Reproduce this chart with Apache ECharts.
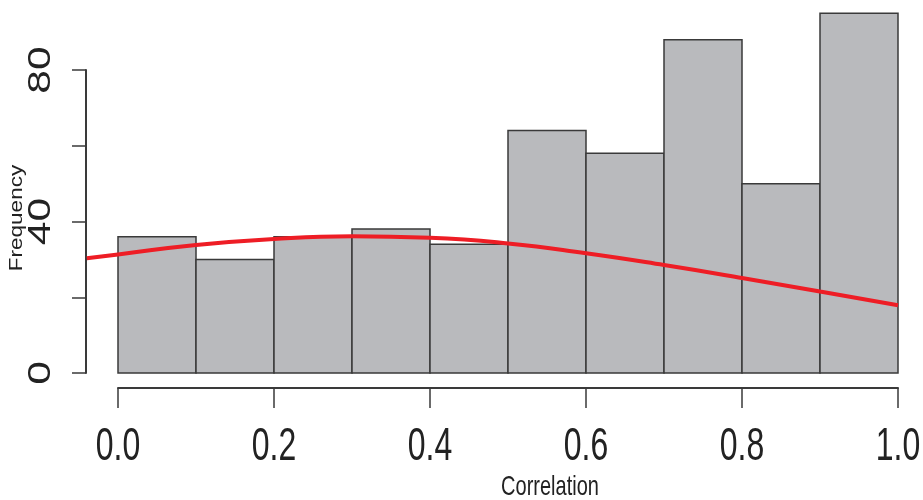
<!DOCTYPE html>
<html><head><meta charset="utf-8">
<script src="https://cdn.jsdelivr.net/npm/echarts@6/dist/echarts.min.js"></script>
<style>html,body{margin:0;padding:0;background:#fff}#c{width:923px;height:500px}</style>
</head><body><div id="c"></div>
<script>
// ---- data ----
const binStarts = [0.0, 0.1, 0.2, 0.3, 0.4, 0.5, 0.6, 0.7, 0.8, 0.9];
const binEnds   = [0.1, 0.2, 0.3, 0.4, 0.5, 0.6, 0.7, 0.8, 0.9, 1.0];
const counts    = [36, 30, 36, 38, 34, 64, 58, 88, 50, 95];
const curveX = [-0.04, 0.0, 0.1, 0.2, 0.3, 0.4, 0.5, 0.6, 0.7, 0.8, 0.9, 1.0];
const curveY = [30.3, 31.3, 33.8, 35.4, 36.1, 35.7, 34.2, 31.6, 28.5, 25.1, 21.5, 17.9];
const xTicks = [0, 0.2, 0.4, 0.6, 0.8, 1.0];
const xTickLabels = ['0.0', '0.2', '0.4', '0.6', '0.8', '1.0'];
const yTicks = [0, 40, 80];
const yTickLabels = ['0', '40', '80'];
const xTitle = 'Correlation';
const yTitle = 'Frequency';

// layout: axis box 118..898 (x 0..1), 70..373 (y 80..0)
const AX = { left: 118, top: 70, width: 780, height: 303 };
const W = 923;
const pxPerX = AX.width / 1;
const pxPerY = AX.height / 80;
const plotLeft = 86.8;
const plotXMin = -(AX.left - plotLeft) / pxPerX;
const plotXMax = (W - AX.left) / pxPerX;
const plotYMax = (AX.top + AX.height) / pxPerY;

const chart = echarts.init(document.getElementById('c'));
const ink = '#3a3a3a';
chart.setOption({
  animation: false,
  backgroundColor: '#fff',
  grid: [
    { left: plotLeft, top: 0, right: 0, height: AX.top + AX.height },
    { left: AX.left, top: AX.top, width: AX.width, height: AX.height }
  ],
  xAxis: [
    { gridIndex: 0, type: 'value', min: plotXMin, max: plotXMax, show: false },
    { gridIndex: 1, type: 'value', min: 0, max: 1, interval: 0.2, offset: 15,
      axisLine: { show: true, onZero: false, lineStyle: { color: ink, width: 2 } },
      axisTick: { show: true, length: 20, lineStyle: { color: ink, width: 1.5 } },
      axisLabel: { show: false }, splitLine: { show: false } }
  ],
  yAxis: [
    { gridIndex: 0, type: 'value', min: 0, max: plotYMax, show: false },
    { gridIndex: 1, type: 'value', min: 0, max: 80, interval: 20, offset: 32,
      axisLine: { show: true, onZero: false, lineStyle: { color: ink, width: 2 } },
      axisTick: { show: true, length: 14, lineStyle: { color: ink, width: 1.5 } },
      axisLabel: { show: false }, splitLine: { show: false } }
  ],
  series: [
    {
      type: 'custom', xAxisIndex: 0, yAxisIndex: 0, z: 2,
      data: binStarts.map((s, i) => [s, binEnds[i], counts[i]]),
      encode: { x: [0, 1], y: 2 },
      renderItem: function (params, api) {
        const p0 = api.coord([api.value(0), api.value(2)]);
        const p1 = api.coord([api.value(1), 0]);
        return {
          type: 'rect',
          shape: { x: p0[0], y: p0[1], width: p1[0] - p0[0], height: p1[1] - p0[1] },
          style: { fill: '#b9babd', stroke: ink, lineWidth: 1.5 }
        };
      }
    },
    {
      type: 'line', xAxisIndex: 0, yAxisIndex: 0, z: 3, smooth: true, showSymbol: false, silent: true,
      data: curveX.map((x, i) => [x, curveY[i]]),
      lineStyle: { color: '#ee1d25', width: 4 }
    }
  ]
});

const textColor = '#222';
const g = [];
xTicks.forEach((v, i) => {
  const px = chart.convertToPixel({ xAxisIndex: 1 }, v);
  g.push({ type: 'text', x: px, y: 447, scaleY: 1.45,
    style: { text: xTickLabels[i], font: '32px "Liberation Sans"', fill: textColor,
      align: 'center', verticalAlign: 'middle', textAlign: 'center', textVerticalAlign: 'middle' } });
});
yTicks.forEach((v, i) => {
  const py = chart.convertToPixel({ yAxisIndex: 1 }, v);
  g.push({ type: 'text', x: 41.5, y: py, rotation: Math.PI / 2, scaleX: 1.33,
    style: { text: yTickLabels[i], font: '32px "Liberation Sans"', fill: textColor,
      align: 'center', verticalAlign: 'middle', textAlign: 'center', textVerticalAlign: 'middle' } });
});
g.push({ type: 'text', x: 550, y: 487, scaleY: 1.4,
  style: { text: xTitle, font: '20px "Liberation Sans"', fill: textColor,
    align: 'center', verticalAlign: 'middle', textAlign: 'center', textVerticalAlign: 'middle' } });
g.push({ type: 'text', x: 17, y: 218, rotation: Math.PI / 2, scaleX: 1.25,
  style: { text: yTitle, font: '18px "Liberation Sans"', fill: textColor,
    align: 'center', verticalAlign: 'middle', textAlign: 'center', textVerticalAlign: 'middle' } });
chart.setOption({ graphic: g });
</script>
</body></html>
